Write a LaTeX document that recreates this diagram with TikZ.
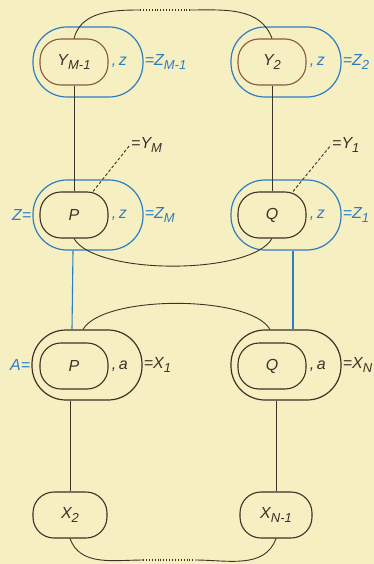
\documentclass[tikz,border=0pt]{standalone}
\usepackage{fontspec}
\setmainfont{Liberation Sans}
\usetikzlibrary{positioning,calc}
\definecolor{papel}{RGB}{246,239,194}
\definecolor{azul}{RGB}{45,125,195}
\definecolor{tinta}{RGB}{60,50,40}
\definecolor{marron}{RGB}{135,90,60}
\newcommand{\idx}[1]{\raisebox{-0.55ex}{\fontsize{13}{14}\selectfont #1}}

\begin{document}
\begin{tikzpicture}[x=1pt, y=-1pt,
  externa/.style={draw=#1, line width=1.2pt, rounded corners=34pt,
    minimum width=110pt, minimum height=70pt, inner sep=0pt},
  interna/.style={draw=#1, line width=1.1pt, rounded corners=21pt,
    minimum width=68pt, minimum height=46pt, inner sep=0pt,
    text=tinta, font=\itshape\fontsize{16}{18}\selectfont},
  etiq/.style={text=#1, inner sep=1pt, font=\itshape\fontsize{16}{18}\selectfont},
  linea/.style={draw=tinta, line width=0.9pt}
]
\fill[papel] (0,0) rectangle (374,564);
\useasboundingbox (0,0) rectangle (374,564);

% fila superior
\node[externa=azul] (zM1) at (88,62) {};
\node[interna=marron] (yM1) at (74,62) {Y\idx{M-1}};
\node[externa=azul] (z2) at (286,62) {};
\node[interna=marron] (y2) at (272,62) {Y\idx{2}};
\node[etiq=azul, right=2pt of yM1] (czM1) {,\,z};
\node[etiq=azul, right=2pt of y2] (cz2) {,\,z};
\node[etiq=azul, anchor=west] (lzM1) at (zM1.east) {=Z\idx{M-1}};
\node[etiq=azul, anchor=west] (lz2) at (z2.east) {=Z\idx{2}};

% fila Z
\node[externa=azul] (zM) at (88,215) {};
\node[interna=tinta] (p) at (74,215) {P};
\node[externa=azul] (z1) at (286,215) {};
\node[interna=tinta] (q) at (272,215) {Q};
\node[etiq=azul, right=2pt of p] (czM) {,\,z};
\node[etiq=azul, right=2pt of q] (cz1) {,\,z};
\node[etiq=azul, anchor=west] (lzM) at (zM.east) {=Z\idx{M}};
\node[etiq=azul, anchor=west] (lz1) at (z1.east) {=Z\idx{1}};
\node[etiq=azul, anchor=east] (lz) at (zM.west) {Z=};
\node[etiq=tinta, anchor=west] (ym) at (130,145) {=Y\idx{M}};
\node[etiq=tinta, anchor=west] (y1) at (331,145) {=Y\idx{1}};

% fila A
\node[externa=tinta] (a1) at (87,365) {};
\node[interna=tinta] (pa) at (74,366) {P};
\node[externa=tinta] (aN) at (286,365) {};
\node[interna=tinta] (qa) at (272,366) {Q};
\node[etiq=tinta, right=2pt of pa] (ca1) {,\,a};
\node[etiq=tinta, right=2pt of qa] (caN) {,\,a};
\node[etiq=tinta, anchor=west] (lx1) at (a1.east) {=X\idx{1}};
\node[etiq=tinta, anchor=west] (lxN) at (aN.east) {=X\idx{N}};
\node[etiq=azul, anchor=east] (la) at (a1.west) {A=};

% fila inferior
\node[interna=tinta, minimum width=74pt] (x2) at (70,515) {X\idx{2}};
\node[interna=tinta, minimum width=72pt] (xN1) at (276,515) {X\idx{N-1}};

% conexiones
\coordinate (tl) at (140,10);
\coordinate (tr) at (190,10);
\coordinate (bl) at (143,560);
\coordinate (br) at (195,560);
\draw[linea] (yM1.north) to[out=75,in=180] (tl);
\draw[linea, dotted, line width=1.1pt] (tl) -- (tr);
\draw[linea] (tr) to[out=0,in=110] (y2.north);
\draw[linea] (yM1.south) -- (p.north);
\draw[linea] (y2.south) -- (q.north);
\draw[linea, dash pattern=on 3pt off 2pt] ([xshift=19pt]p.north) -- (ym.west);
\draw[linea, dash pattern=on 3pt off 2pt] ([xshift=21pt]q.north) -- (y1.west);
\draw[linea] (p.south) to[out=-60,in=-120,looseness=0.55] (q.south);
\draw[azul, line width=1.1pt] ([xshift=-15pt]zM.south) -- ([xshift=-15pt]a1.north);
\draw[azul, line width=1.1pt] ([xshift=7pt]z1.south) -- ([xshift=7pt]aN.north);
\draw[linea] ([xshift=-4pt]a1.north) to[out=60,in=120,looseness=0.55] ([xshift=-16pt]aN.north);
\draw[linea] (x2.north |- a1.south) -- (x2.north);
\draw[linea] (xN1.north |- aN.south) -- (xN1.north);
\draw[linea] (x2.south) to[out=-70,in=180] (bl);
\draw[linea, dotted, line width=1.1pt] (bl) -- (br);
\draw[linea] (br) to[out=0,in=-110] (xN1.south);
\end{tikzpicture}
\end{document}
